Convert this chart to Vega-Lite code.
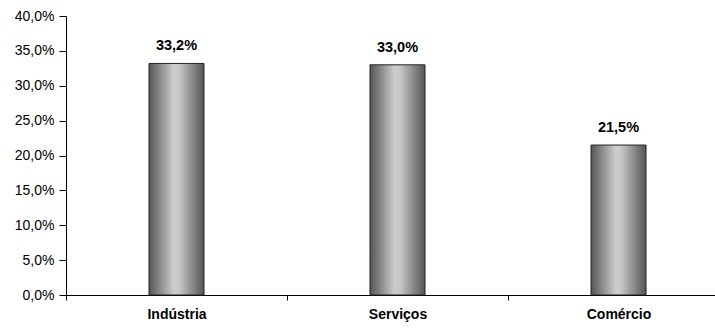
{
  "$schema": "https://vega.github.io/schema/vega-lite/v6.json",
  "autosize": "none",
  "padding": {"left": 66, "top": 16, "right": 0, "bottom": 34},
  "width": 663,
  "height": 279,
  "background": "white",
  "config": {
    "locale": {"number": {"decimal": ",", "thousands": ".", "grouping": [3], "currency": ["R$", ""]}},
    "view": {"stroke": null},
    "font": "Liberation Sans"
  },
  "data": {
    "values": [
      {"setor": "Indústria", "valor": 0.332},
      {"setor": "Serviços", "valor": 0.330},
      {"setor": "Comércio", "valor": 0.215}
    ]
  },
  "encoding": {
    "x": {
      "field": "setor", "type": "nominal", "sort": null,
      "scale": {"paddingInner": 0, "paddingOuter": 0},
      "axis": {
        "title": null, "labelAngle": 0, "labelFont": "Liberation Sans", "labelFontSize": 14,
        "labelFontWeight": "bold", "labelColor": "black", "labelPadding": 7,
        "domainColor": "black", "domainWidth": 1, "tickColor": "black", "tickBand": "extent",
        "tickSize": 5
      }
    },
    "y": {
      "field": "valor", "type": "quantitative",
      "scale": {"domain": [0, 0.4], "nice": false},
      "axis": {
        "title": null, "format": ".1%", "values": [0, 0.05, 0.1, 0.15, 0.2, 0.25, 0.3, 0.35, 0.4],
        "grid": false, "labelFont": "Liberation Sans", "labelFontSize": 14, "labelColor": "black",
        "domainColor": "black", "tickColor": "black", "tickSize": 7, "labelPadding": 5
      }
    }
  },
  "layer": [
    {
      "mark": {
        "type": "bar", "size": 55, "stroke": "#222222", "strokeWidth": 1,
        "color": {
          "gradient": "linear", "x1": 0, "x2": 1, "y1": 0, "y2": 0,
          "stops": [
            {"offset": 0, "color": "#555555"},
            {"offset": 0.45, "color": "#cdcdcd"},
            {"offset": 0.55, "color": "#c6c6c6"},
            {"offset": 1, "color": "#555555"}
          ]
        }
      }
    },
    {
      "mark": {"type": "text", "dy": -17, "fontWeight": "bold", "fontSize": 14.5, "font": "Liberation Sans", "color": "black"},
      "encoding": {"text": {"field": "valor", "type": "quantitative", "format": ".1%"}}
    }
  ]
}
